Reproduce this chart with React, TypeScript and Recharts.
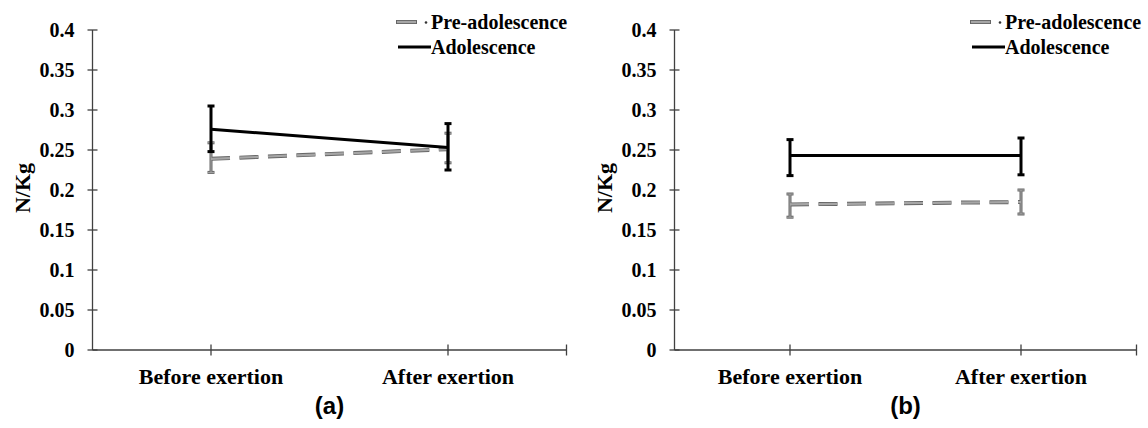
import React from 'react';
import { LineChart, Line, XAxis, YAxis, ErrorBar, Legend } from 'recharts';

// ---------- data ----------
const categories = ['Before exertion', 'After exertion'];
const categoryPositions = [1, 3];
const xDomain: [number, number] = [0, 4];
const xTicks = [1, 3, 4];
const yTicks = [0, 0.05, 0.1, 0.15, 0.2, 0.25, 0.3, 0.35, 0.4];
const yTickLabels = ['0', '0.05', '0.1', '0.15', '0.2', '0.25', '0.3', '0.35', '0.4'];
const seriesNames = ['Pre-adolescence', 'Adolescence'];
const panelLabels = ['(a)', '(b)'];
const yAxisTitle = 'N/Kg';

// panel (a)
const preA = [0.239, 0.251];
const preAErrLow = [0.017, 0.017];
const preAErrHigh = [0.02, 0.02];
const adoA = [0.276, 0.253];
const adoAErrLow = [0.028, 0.028];
const adoAErrHigh = [0.029, 0.03];

// panel (b)
const preB = [0.182, 0.185];
const preBErrLow = [0.016, 0.015];
const preBErrHigh = [0.013, 0.015];
const adoB = [0.243, 0.243];
const adoBErrLow = [0.025, 0.024];
const adoBErrHigh = [0.02, 0.022];

// ---------- styles ----------
const SERIF = 'Liberation Serif, DejaVu Serif, serif';
const SANS = 'Liberation Sans, Arial, sans-serif';
const AXIS = '#404040';
const GRAY_OUT = '#666666';
const GRAY_IN = '#a6a6a6';
const DASH = '19 9.5';

const Y_TICK_SIZE = 6;
const Y_TICK_MARGIN = 12;
const X_TICK_SIZE = 6;
const X_TICK_MARGIN = 8;

function buildRows(pre: number[], preLo: number[], preHi: number[], ado: number[], adoLo: number[], adoHi: number[]) {
  return categories.map((c, i) => ({
    x: categoryPositions[i],
    name: c,
    pre: pre[i],
    preErr: [preLo[i], preHi[i]],
    ado: ado[i],
    adoErr: [adoLo[i], adoHi[i]],
  }));
}

function YTick(props: any) {
  const { x, y, payload } = props;
  const axisX = x + Y_TICK_SIZE + Y_TICK_MARGIN;
  const idx = yTicks.indexOf(payload.value);
  const label = idx >= 0 ? yTickLabels[idx] : String(payload.value);
  return (
    <g>
      <line x1={axisX - 5} x2={axisX + 5} y1={y} y2={y} stroke={AXIS} strokeWidth={1.3} />
      <text x={x} y={y} dy="0.35em" textAnchor="end" style={{ fontFamily: SERIF, fontWeight: 700, fontSize: 20 }} fill="#000">
        {label}
      </text>
    </g>
  );
}

function XTick(props: any) {
  const { x, y, payload } = props;
  const axisY = y - X_TICK_SIZE - X_TICK_MARGIN;
  const idx = categoryPositions.indexOf(payload.value);
  const label = idx >= 0 ? categories[idx] : '';
  return (
    <g>
      <line x1={x} x2={x} y1={axisY - 5.5} y2={axisY + 5.5} stroke={AXIS} strokeWidth={1.3} />
      {label ? (
        <text x={x} y={axisY + 34} textAnchor="middle" style={{ fontFamily: SERIF, fontWeight: 700, fontSize: 22 }} fill="#000">
          {label}
        </text>
      ) : null}
    </g>
  );
}

function LegendContent() {
  return (
    <div style={{ fontFamily: SERIF, fontWeight: 700, fontSize: 20, color: '#000', whiteSpace: 'nowrap' }}>
      <div style={{ display: 'flex', alignItems: 'center', height: 25 }}>
        <svg width={35} height={10} style={{ display: 'block' }}>
          <line x1={0} x2={21} y1={5} y2={5} stroke={GRAY_OUT} strokeWidth={4} />
          <line x1={1} x2={20} y1={5} y2={5} stroke={GRAY_IN} strokeWidth={2.2} />
          <circle cx={30} cy={5.5} r={1.3} fill="#333" />
        </svg>
        <span style={{ lineHeight: '25px' }}>{seriesNames[0]}</span>
      </div>
      <div style={{ display: 'flex', alignItems: 'center', height: 25 }}>
        <svg width={35} height={10} style={{ display: 'block' }}>
          <line x1={2} x2={35} y1={5} y2={5} stroke="#000" strokeWidth={3} />
        </svg>
        <span style={{ lineHeight: '25px' }}>{seriesNames[1]}</span>
      </div>
    </div>
  );
}

type PanelProps = {
  rows: any[];
  width: number;
  yAxisWidth: number;
  rightMargin: number;
  panelLabel: string;
};

function Panel({ rows, width, yAxisWidth, rightMargin, panelLabel }: PanelProps) {
  const YTitle = (p: any) => {
    const vb = p.viewBox || {};
    const cx = vb.x + vb.width - 70;
    const cy = vb.y + vb.height / 2 - 2;
    return (
      <text
        x={cx}
        y={cy}
        transform={`rotate(-90 ${cx} ${cy})`}
        textAnchor="middle"
        dominantBaseline="central"
        style={{ fontFamily: SERIF, fontWeight: 700, fontSize: 22 }}
        fill="#000"
      >
        {yAxisTitle}
      </text>
    );
  };
  const XTitle = (p: any) => {
    const vb = p.viewBox || {};
    const cx = vb.x + vb.width / 2;
    return (
      <text x={cx} y={vb.y + 64} textAnchor="middle" style={{ fontFamily: SANS, fontWeight: 700, fontSize: 24 }} fill="#000">
        {panelLabel}
      </text>
    );
  };
  return (
    <LineChart
      width={width}
      height={428}
      data={rows}
      margin={{ top: 30, right: rightMargin, left: 0, bottom: 18 }}
    >
      <XAxis
        type="number"
        dataKey="x"
        domain={xDomain}
        ticks={xTicks}
        interval={0}
        allowDataOverflow
        height={60}
        tickSize={X_TICK_SIZE}
        tickMargin={X_TICK_MARGIN}
        tickLine={false}
        axisLine={{ stroke: AXIS, strokeWidth: 1.3 }}
        tick={<XTick />}
        label={<XTitle />}
      />
      <YAxis
        type="number"
        domain={[0, 0.4]}
        ticks={yTicks}
        interval={0}
        width={yAxisWidth}
        tickSize={Y_TICK_SIZE}
        tickMargin={Y_TICK_MARGIN}
        tickLine={false}
        axisLine={{ stroke: AXIS, strokeWidth: 1.3 }}
        tick={<YTick />}
        label={<YTitle />}
      />
      <Legend
        layout="vertical"
        align="center"
        verticalAlign="middle"
        content={<LegendContent />}
        wrapperStyle={{ left: 396, top: 9.5, width: 200, height: 50 }}
      />
      <Line
        type="linear"
        dataKey="pre"
        name={seriesNames[0]}
        stroke={GRAY_OUT}
        strokeWidth={4}
        strokeDasharray={DASH}
        dot={false}
        activeDot={false}
        isAnimationActive={false}
      >
        <ErrorBar dataKey="preErr" direction="y" width={3.5} stroke={GRAY_OUT} strokeWidth={3} />
      </Line>
      <Line
        type="linear"
        dataKey="pre"
        legendType="none"
        stroke={GRAY_IN}
        strokeWidth={2.2}
        strokeDasharray={DASH}
        dot={false}
        activeDot={false}
        isAnimationActive={false}
      >
        <ErrorBar dataKey="preErr" direction="y" width={3} stroke={GRAY_IN} strokeWidth={1} />
      </Line>
      <Line
        type="linear"
        dataKey="ado"
        name={seriesNames[1]}
        stroke="#000"
        strokeWidth={3}
        dot={false}
        activeDot={false}
        isAnimationActive={false}
      >
        <ErrorBar dataKey="adoErr" direction="y" width={3.5} stroke="#000" strokeWidth={3} />
      </Line>
    </LineChart>
  );
}

const rowsA = buildRows(preA, preAErrLow, preAErrHigh, adoA, adoAErrLow, adoAErrHigh);
const rowsB = buildRows(preB, preBErrLow, preBErrHigh, adoB, adoBErrLow, adoBErrHigh);

export default function App() {
  return (
    <div style={{ position: 'absolute', left: 0, top: 0, width: 1148, height: 428, background: '#fff', overflow: 'hidden' }}>
      <div style={{ position: 'absolute', left: 0, top: 0 }}>
        <Panel rows={rowsA} width={574} yAxisWidth={92.5} rightMargin={7.5} panelLabel={panelLabels[0]} />
      </div>
      <div style={{ position: 'absolute', left: 574, top: 0 }}>
        <Panel rows={rowsB} width={574} yAxisWidth={100.5} rightMargin={11.5} panelLabel={panelLabels[1]} />
      </div>
    </div>
  );
}
